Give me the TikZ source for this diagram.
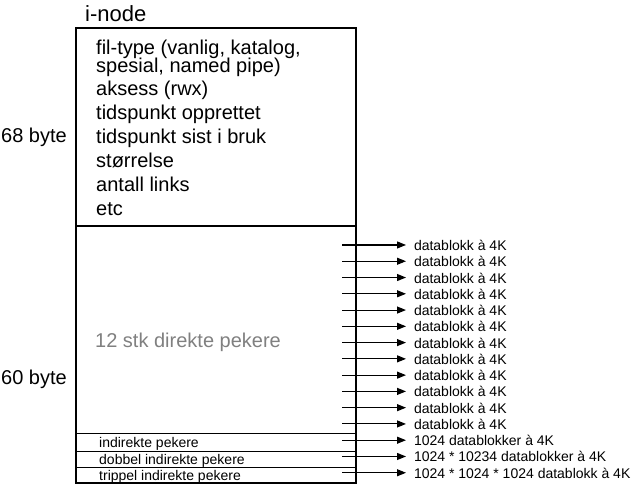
\documentclass[tikz,border=0pt]{standalone}
\usepackage{fontspec}
\setmainfont{Liberation Sans}
\usetikzlibrary{arrows.meta}
\definecolor{graatekst}{RGB}{128,128,128}
\begin{document}
\begin{tikzpicture}[x=1pt,y=-1pt,
    felt/.style={anchor=base west,inner sep=0pt,font=\fontsize{20}{24}\selectfont},
    liten/.style={anchor=base west,inner sep=0pt,font=\fontsize{14}{16}\selectfont},
    blokk/.style={liten,outer xsep=8pt},
    peker/.style={-{Triangle[length=9pt,width=7pt]},line width=1.1pt}]
  \useasboundingbox (0,0) rectangle (640,490);
  % selve i-noden
  \draw[line width=1.2pt] (76,28) rectangle (356,483);
  \draw[line width=1.2pt] (76,226) -- (356,226);
  \foreach \y in {433,451,467} \draw[line width=0.9pt] (76,\y) -- (356,\y);
  \node[felt,font=\fontsize{22}{24}\selectfont] (tittel) at (85,21) {i-node};
  \node[felt] (b68) at (1,142) {68 byte};
  \node[felt] (b60) at (1,384) {60 byte};
  % attributter
  \node[felt,anchor=north west,align=left] (type) at (96,39.5)
    {fil-type (vanlig, katalog,\\[-6pt]spesial, named pipe)};
  \foreach \tekst [count=\i] in {aksess (rwx),tidspunkt opprettet,tidspunkt sist i bruk,st\o rrelse,antall links,etc}
    \node[felt] (attr\i) at (96,71.5+24*\i) {\tekst};
  \node[felt,text=graatekst] (direkte) at (95,347) {12 stk direkte pekere};
  \node[liten] (ind1) at (99,447) {indirekte pekere};
  \node[liten] (ind2) at (99,464) {dobbel indirekte pekere};
  \node[liten] (ind3) at (99,480) {trippel indirekte pekere};
  % pekere ut til datablokkene
  \foreach \i in {1,...,12} {
    \coordinate (s\i) at (342,228.7+16.27*\i);
    \node[blokk] (d\i) at (406,234.2+16.27*\i) {datablokk \`a 4K};
    \draw[peker] (s\i) -- (s\i -| d\i.west);
  }
  \foreach \tekst [count=\i from 13] in {1024 datablokker \`a 4K,1024 * 10234 datablokker \`a 4K,1024 * 1024 * 1024 datablokk \`a 4K} {
    \coordinate (s\i) at (342,228.7+16.27*\i);
    \node[blokk] (d\i) at (406,234.2+16.27*\i) {\tekst};
    \draw[peker] (s\i) -- (s\i -| d\i.west);
  }
\end{tikzpicture}
\end{document}
